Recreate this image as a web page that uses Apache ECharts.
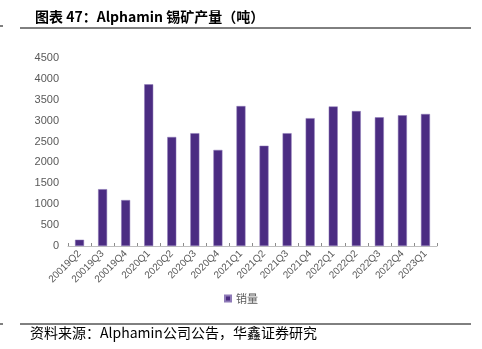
<!DOCTYPE html>
<html>
<head>
<meta charset="utf-8">
<script src="https://cdn.jsdelivr.net/npm/echarts@6/dist/echarts.min.js"></script>
<style>
  html, body { margin: 0; padding: 0; background: #fff; }
  #chart { width: 482px; height: 349px; }
</style>
</head>
<body>
<div id="chart"></div>
<script>
const quarters = ["20019Q2", "20019Q3", "20019Q4", "2020Q1", "2020Q2", "2020Q3", "2020Q4", "2021Q1",
    "2021Q2", "2021Q3", "2021Q4", "2022Q1", "2022Q2", "2022Q3", "2022Q4", "2023Q1"];
const sales = [150, 1360, 1100, 3870, 2610, 2700, 2300, 3350, 2400, 2700, 3060, 3340, 3230, 3080, 3130, 3160];
const yTicks = { min: 0, max: 4500, interval: 500 };

const barColor = "#4b2c82";
const labelColor = "#595959";

const chart = echarts.init(document.getElementById("chart"));
chart.setOption({
    animation: false,
    title: {
        text: "图表 47：Alphamin 锡矿产量（吨）",
        left: 30, top: 5,
        textStyle: { fontSize: 14, fontWeight: "bold", color: "#000", fontFamily: "Noto Sans CJK SC" }
    },
    graphic: [
        { type: "line", shape: { x1: 20, y1: 28, x2: 471, y2: 28 }, style: { stroke: "#000", lineWidth: 1 } },
        { type: "line", shape: { x1: 0, y1: 26, x2: 3, y2: 26 }, style: { stroke: "#000", lineWidth: 1 } },
        { type: "line", shape: { x1: 20, y1: 324, x2: 471, y2: 324 }, style: { stroke: "#000", lineWidth: 1 } },
        { type: "line", shape: { x1: 0, y1: 324, x2: 3, y2: 324 }, style: { stroke: "#000", lineWidth: 1 } },
        {
            type: "text", left: 30, top: 326,
            style: { text: "资料来源：Alphamin公司公告，华鑫证券研究", fontSize: 14, fill: "#000", fontFamily: "Noto Sans CJK SC" }
        }
    ],
    legend: {
        data: ["销量"],
        top: 288, left: "center",
        icon: "rect", itemWidth: 6, itemHeight: 6, itemGap: 4,
        textStyle: { fontSize: 11, color: labelColor, fontFamily: "Noto Sans CJK SC" }
    },
    grid: { left: 68, right: 45, top: 58, bottom: 103 },
    xAxis: {
        type: "category",
        data: quarters,
        axisLine: { lineStyle: { color: "#bfbfbf", width: 1 } },
        axisTick: { show: true, inside: true, length: 3, lineStyle: { color: "#8c8c8c" } },
        axisLabel: { rotate: 45, interval: 0, fontSize: 10, color: labelColor, margin: 6, fontFamily: "Liberation Sans" }
    },
    yAxis: {
        type: "value",
        min: yTicks.min, max: yTicks.max, interval: yTicks.interval,
        axisLine: { show: false },
        axisTick: { show: false },
        splitLine: { show: false },
        axisLabel: { fontSize: 11, color: labelColor, margin: 9, fontFamily: "Liberation Sans", formatter: v => String(v) }
    },
    series: [{
        name: "销量",
        type: "bar",
        data: sales,
        barWidth: 9,
        itemStyle: { color: barColor, borderColor: "#8f7bb8", borderWidth: 0.5 }
    }]
});
</script>
</body>
</html>
